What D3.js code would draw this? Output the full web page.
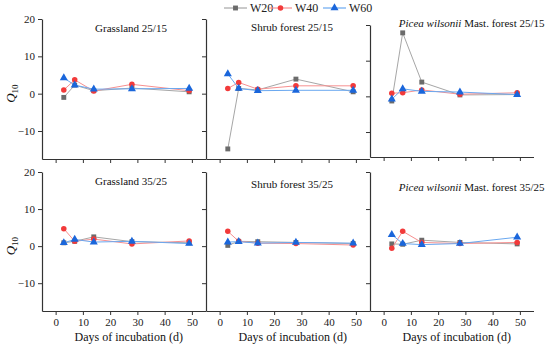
<!DOCTYPE html>
<html>
<head>
<meta charset="utf-8">
<script src="https://cdn.jsdelivr.net/npm/d3@7"></script>
<style>
  body { margin: 0; background: #fff; }
  svg text { font-family: "Liberation Serif", Tinos, "DejaVu Serif", serif !important; }
</style>
</head>
<body>
<div id="chart"></div>
<script>

// days of incubation
var days = [3, 7, 14, 28, 49];
var seriesNames = ["W20", "W40", "W60"];

// panel order: grass 25/15, shrub 25/15, picea 25/15, grass 35/25, shrub 35/25, picea 35/25
var panelSite = ["Grassland", "Shrub forest", "Picea", "Grassland", "Shrub forest", "Picea"];
var panelTemp = ["25/15", "25/15", "25/15", "35/25", "35/25", "35/25"];

var w20 = [
    [-1.0, 2.3, 0.8, 1.5, 0.5],
    [-14.8, 1.4, 1.0, 3.9, 0.5],
    [-1.3, 17.8, 4.0, 0.4, 0.5],
    [0.9, 1.3, 2.5, 1.2, 0.9],
    [0.2, 1.3, 1.2, 1.0, 0.7],
    [0.6, 0.5, 1.6, 1.0, 0.6]
];
var w40 = [
    [1.0, 3.7, 0.7, 2.5, 0.8],
    [1.4, 3.0, 1.2, 2.1, 2.1],
    [0.9, 1.0, 1.8, 0.6, 1.0],
    [4.7, 1.3, 1.9, 0.6, 1.4],
    [4.0, 1.3, 0.8, 0.7, 0.3],
    [-0.6, 4.0, 1.0, 0.7, 1.0]
];
var w60 = [
    [4.2, 2.3, 1.2, 1.3, 1.4],
    [5.3, 1.4, 0.8, 0.9, 0.9],
    [-0.8, 2.1, 1.4, 1.2, 0.5],
    [0.9, 1.8, 1.1, 1.3, 0.7],
    [1.1, 1.2, 0.8, 1.0, 0.8],
    [3.1, 0.7, 0.4, 0.7, 2.4]
];

var xTicks = [0, 10, 20, 30, 40, 50];
var yTicks = [-10, 0, 10, 20];

var lineColors = ["#a6a6a6", "#f79090", "#6aa8f0"];
var markColors = ["#6b6b6b", "#f23a3a", "#1a66db"];
var FONT = "Liberation Serif, Tinos, DejaVu Serif, serif";

var svg = d3.select("#chart").append("svg")
    .attr("width", 550)
    .attr("height", 346)
    .attr("font-family", FONT);

// panel geometry (the source figure is a composite, top-right panel sits a bit lower)
var panels = [
    {x0: 42, x1: 205.5, y0: 19, y1: 159, ymin: -17.5, ty: 32},
    {x0: 206, x1: 369.5, y0: 19, y1: 159, ymin: -17.5, ty: 31},
    {x0: 370, x1: 533.5, y0: 25, y1: 157, ymin: -17, ty: 27},
    {x0: 42, x1: 205.5, y0: 172, y1: 311, ymin: -17.5, ty: 185},
    {x0: 206, x1: 369.5, y0: 172, y1: 311, ymin: -17.5, ty: 188},
    {x0: 370, x1: 533.5, y0: 172, y1: 311, ymin: -17.5, ty: 191}
];

panels.forEach(function(p, i){
    var x = d3.scaleLinear().domain([-5, 55]).range([p.x0, p.x1]);
    var y = d3.scaleLinear().domain([p.ymin, 20]).range([p.y1, p.y0]);
    var col = i % 3, row = Math.floor(i / 3);

    var g = svg.append("g");

    var xAxis = d3.axisBottom(x).tickValues(xTicks).tickSize(4).tickSizeOuter(0).tickPadding(3);
    var gx = g.append("g")
        .attr("transform", "translate(0," + p.y1 + ")")
        .call(xAxis);
    if (row == 0) gx.selectAll(".tick text").remove();

    var yAxis = d3.axisLeft(y).tickValues(yTicks).tickSize(4).tickSizeOuter(0).tickPadding(3);
    var gy = g.append("g")
        .attr("transform", "translate(" + p.x0 + ",0)")
        .call(yAxis);
    if (col != 0) gy.selectAll(".tick text").remove();

    g.selectAll(".domain").attr("stroke", "#333").attr("stroke-width", 1.2);
    g.selectAll(".tick line").attr("stroke", "#333");
    g.selectAll("g").attr("font-family", FONT);
    g.selectAll(".tick text").attr("font-size", 11).attr("fill", "#222");

    // panel title
    var t = g.append("text")
        .attr("font-size", 11)
        .attr("fill", "#111")
        .attr("y", p.ty);
    if (panelSite[i] == "Picea") {
        t.attr("x", p.x1 + 11).attr("text-anchor", "end");
        t.append("tspan").attr("font-style", "italic").text("Picea wilsonii");
        t.append("tspan").text(" Mast. forest " + panelTemp[i]);
    } else {
        t.attr("x", col == 0 ? 131 : 292).attr("text-anchor", "middle")
            .text(panelSite[i] + " " + panelTemp[i]);
    }

    [w20, w40, w60].forEach(function(s, k){
        var pts = days.map(function(d, j){ return [d, s[i][j]]; });
        var line = d3.line()
            .x(function(d){ return x(d[0]); })
            .y(function(d){ return y(d[1]); });
        g.append("path")
            .datum(pts)
            .attr("d", line)
            .attr("fill", "none")
            .attr("stroke", lineColors[k])
            .attr("stroke-width", 1);
        g.selectAll(".m" + k)
            .data(pts)
            .enter().append("path")
            .attr("transform", function(d){ return "translate(" + x(d[0]) + "," + y(d[1]) + ")"; })
            .attr("d", d3.symbol().type([d3.symbolSquare, d3.symbolCircle, d3.symbolTriangle][k]).size(k == 2 ? 28 : 24)())
            .attr("fill", markColors[k]);
    });

    // x title on bottom row
    if (row == 1) {
        g.append("text")
            .attr("x", (p.x0 + p.x1) / 2 + 5)
            .attr("y", 341)
            .attr("text-anchor", "middle")
            .attr("font-size", 12)
            .attr("fill", "#111")
            .text("Days of incubation (d)");
    }
    // y title on left column
    if (col == 0) {
        var yl = g.append("text")
            .attr("transform", "translate(15," + y(0) + ") rotate(-90)")
            .attr("text-anchor", "middle")
            .attr("font-size", 13)
            .attr("fill", "#111");
        yl.append("tspan").attr("font-style", "italic").text("Q");
        yl.append("tspan").attr("font-size", 9).attr("dy", 3).text("10");
    }
});

// legend
var legX = [224, 269, 323];
var legend = svg.append("g");
seriesNames.forEach(function(name, k){
    var lg = legend.append("g").attr("transform", "translate(" + legX[k] + ",8)");
    lg.append("line").attr("x1", 0).attr("x2", 23).attr("y1", 0).attr("y2", 0)
        .attr("stroke", lineColors[k]).attr("stroke-width", 1.2);
    lg.append("path")
        .attr("transform", "translate(11.5,0)")
        .attr("d", d3.symbol().type([d3.symbolSquare, d3.symbolCircle, d3.symbolTriangle][k]).size(k == 2 ? 28 : 24)())
        .attr("fill", markColors[k]);
    lg.append("text").attr("x", 26).attr("y", 4)
        .attr("font-size", 12).attr("fill", "#222").text(name);
});

</script>
</body>
</html>
